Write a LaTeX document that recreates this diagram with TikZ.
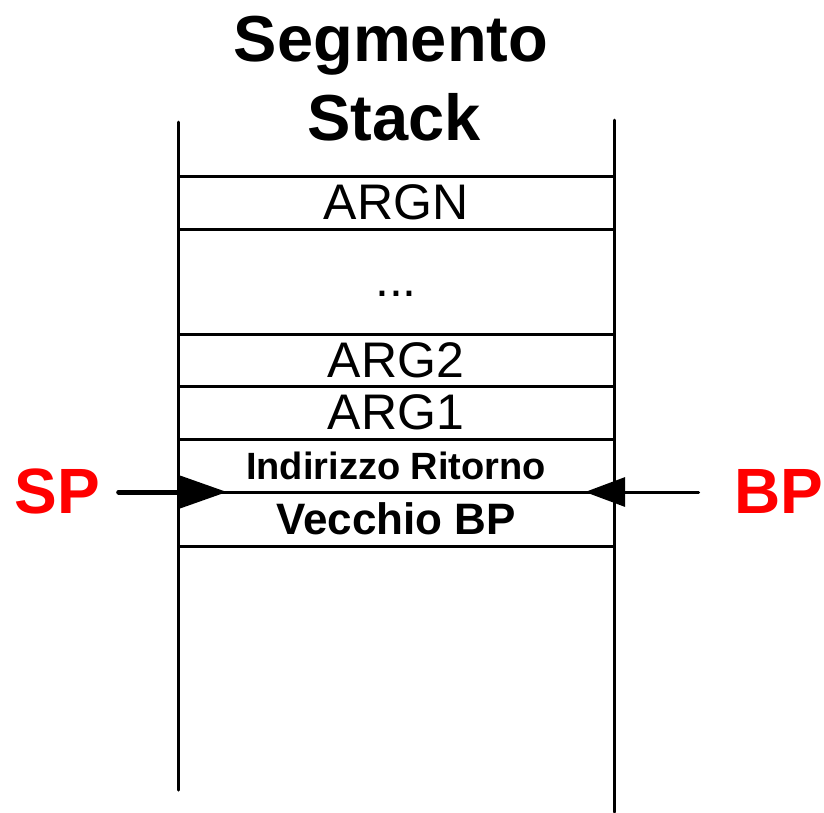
\documentclass[tikz,border=0pt]{standalone}
\usepackage{fontspec}
\setmainfont{Liberation Sans}
\usetikzlibrary{arrows.meta}

\begin{document}
\begin{tikzpicture}[x=1pt,y=-1pt,
  wall/.style={line width=3pt,line cap=round},
  cell/.style={draw,line width=3pt,minimum width=436pt,inner sep=0pt,outer sep=0pt,anchor=north,
               font=\fontsize{50}{60}\selectfont},
  titletext/.style={anchor=base,inner sep=0pt,font=\fontsize{65}{78}\selectfont\bfseries},
  regname/.style={anchor=base,inner sep=0pt,outer sep=0pt,text=red,font=\fontsize{64}{76}\selectfont\bfseries},
  ptr/.style={line cap=round}
]
% page frame
\useasboundingbox (0,0) rectangle (824,812);

% title
\node[titletext] (title1) at (391,61) {Segmento};
\node[titletext] (title2) at (394,140) {Stack};

% stack walls
\coordinate (lt) at (178,122);
\coordinate (lb) at (178,790);
\coordinate (rt) at (614,120);
\coordinate (rb) at (614,812);
\draw[wall] (lt) -- (lb);
\draw[wall] (rt) -- (rb);

% stack cells
\node[cell,minimum height=53pt] (argN) at (396,176) {ARGN};
\node[anchor=base,inner sep=0pt,font=\fontsize{50}{60}\selectfont] (dots) at (396,296) {...};
\node[cell,minimum height=52pt] (arg2) at (396,334) {ARG2};
\node[cell,minimum height=53pt] (arg1) at (arg2.south) {ARG1};
\node[cell,minimum height=53pt,font=\fontsize{38}{46}\selectfont\bfseries] (ret) at (arg1.south) {Indirizzo Ritorno};
\node[cell,minimum height=54pt,font=\fontsize{44}{53}\selectfont\bfseries] (oldbp) at (ret.south) {Vecchio BP};

% register labels
\node[regname] (SP) at (57,513) {SP};
\node[regname] (BP) at (779,513) {BP};

% pointers, level with the boundary between the two frame cells
\coordinate (spfoot) at (SP.east |- ret.south);
\coordinate (bpfoot) at (BP.west |- ret.south);
\draw[ptr,line width=5pt,-{Triangle[length=49pt,width=33pt]}]
  ([xshift=19pt]spfoot) -- ([xshift=49pt]ret.south west);
\draw[ptr,line width=3pt,-{Triangle[length=40pt,width=29pt]}]
  ([xshift=-36pt]bpfoot) -- ([xshift=-29pt]ret.south east);
\end{tikzpicture}
\end{document}
